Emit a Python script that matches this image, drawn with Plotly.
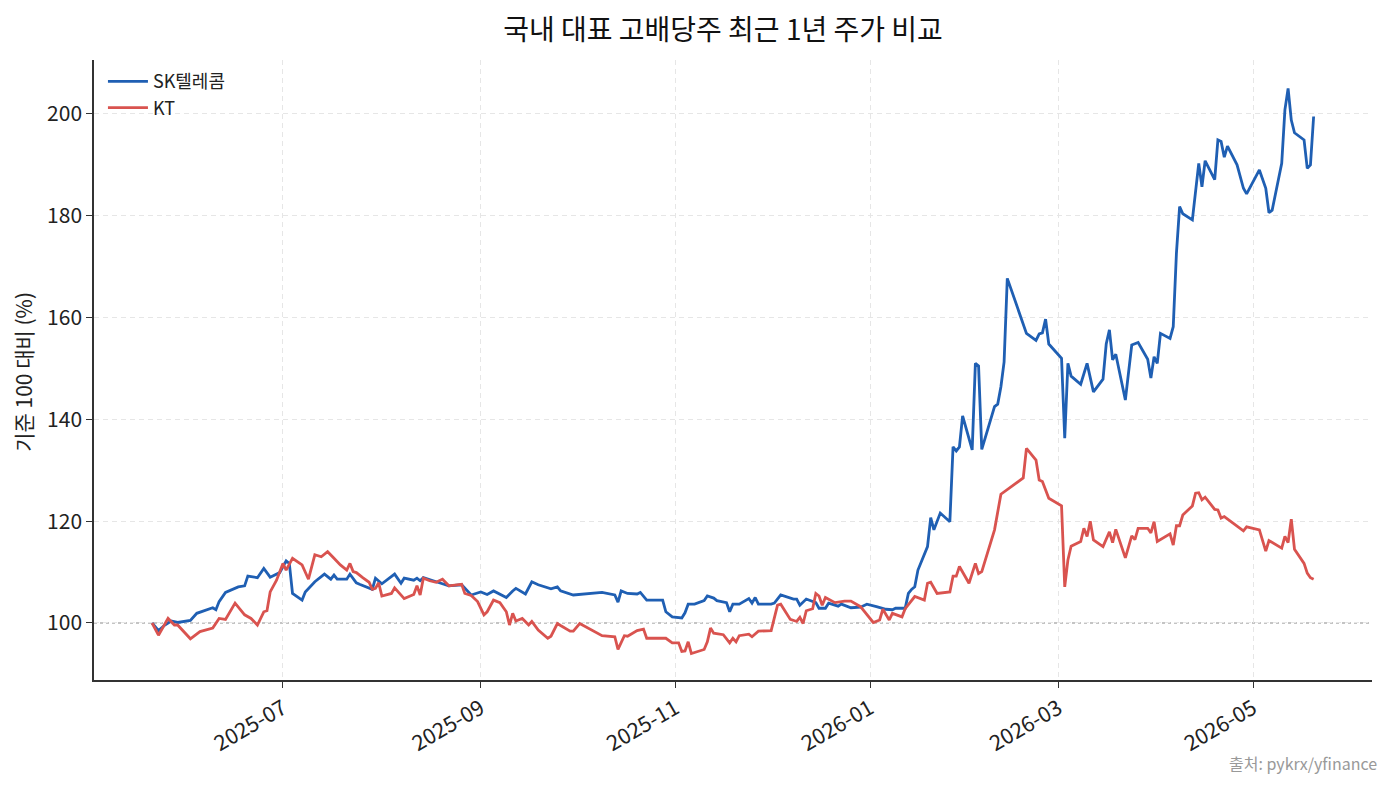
import plotly.graph_objects as go

TITLE = "국내 대표 고배당주 최근 1년 주가 비교"
Y_LABEL = "기준 100 대비 (%)"
SOURCE = "출처: pykrx/yfinance"
SERIES_NAMES = ["SK텔레콤", "KT"]

skt_dates = [
    "2025-05-21","2025-05-23","2025-05-25","2025-05-27","2025-05-29","2025-06-02","2025-06-04","2025-06-06",
    "2025-06-09","2025-06-10","2025-06-11","2025-06-13","2025-06-17","2025-06-19","2025-06-20","2025-06-23",
    "2025-06-25","2025-06-27","2025-06-30","2025-07-02","2025-07-03","2025-07-04","2025-07-07","2025-07-08",
    "2025-07-11","2025-07-14","2025-07-16","2025-07-17","2025-07-18","2025-07-21","2025-07-22","2025-07-24",
    "2025-07-25","2025-07-29","2025-07-30","2025-08-01","2025-08-05","2025-08-07","2025-08-08","2025-08-11",
    "2025-08-12","2025-08-13","2025-08-14","2025-08-19","2025-08-22","2025-08-26","2025-08-29","2025-09-01",
    "2025-09-03","2025-09-05","2025-09-09","2025-09-11","2025-09-12","2025-09-15","2025-09-17","2025-09-19",
    "2025-09-23","2025-09-25","2025-09-26","2025-09-30","2025-10-09","2025-10-13","2025-10-14","2025-10-15",
    "2025-10-17","2025-10-20","2025-10-21","2025-10-23","2025-10-28","2025-10-29","2025-10-31","2025-11-03",
    "2025-11-04","2025-11-05","2025-11-07","2025-11-10","2025-11-11","2025-11-13","2025-11-14","2025-11-17",
    "2025-11-18","2025-11-19","2025-11-21","2025-11-24","2025-11-25","2025-11-26","2025-11-27","2025-12-01",
    "2025-12-02","2025-12-04","2025-12-08","2025-12-09","2025-12-10","2025-12-12","2025-12-15","2025-12-16",
    "2025-12-18","2025-12-19","2025-12-22","2025-12-23","2025-12-26","2025-12-29","2025-12-31","2026-01-03",
    "2026-01-06","2026-01-08","2026-01-09","2026-01-12","2026-01-13","2026-01-14","2026-01-15","2026-01-16",
    "2026-01-19","2026-01-20","2026-01-21","2026-01-23","2026-01-26","2026-01-27","2026-01-28","2026-01-29",
    "2026-01-30","2026-02-02","2026-02-03","2026-02-04","2026-02-05","2026-02-09","2026-02-10","2026-02-11",
    "2026-02-12","2026-02-13","2026-02-19","2026-02-22","2026-02-23","2026-02-24","2026-02-25","2026-02-26",
    "2026-03-02","2026-03-03","2026-03-04","2026-03-05","2026-03-08","2026-03-10","2026-03-12","2026-03-15",
    "2026-03-16","2026-03-17","2026-03-18","2026-03-19","2026-03-22","2026-03-24","2026-03-26","2026-03-29",
    "2026-03-30","2026-03-31","2026-04-01","2026-04-02","2026-04-05","2026-04-06","2026-04-07","2026-04-08",
    "2026-04-09","2026-04-12","2026-04-14","2026-04-15","2026-04-16","2026-04-19","2026-04-20","2026-04-21",
    "2026-04-22","2026-04-23","2026-04-26","2026-04-28","2026-04-29","2026-05-03","2026-05-05","2026-05-06",
    "2026-05-07","2026-05-10","2026-05-11","2026-05-12","2026-05-13","2026-05-14","2026-05-17","2026-05-18",
    "2026-05-19","2026-05-20",
]
skt_values = [
    100.0, 98.5, 99.6, 100.4, 100.1, 100.5, 101.9, 102.4,
    103.0, 102.6, 104.2, 106.0, 107.1, 107.3, 109.2, 108.9,
    110.7, 109.0, 109.9, 112.2, 111.7, 105.8, 104.5, 106.1,
    108.1, 109.6, 108.6, 109.4, 108.6, 108.6, 109.6, 107.9,
    107.6, 106.6, 108.8, 107.7, 109.6, 107.8, 108.8, 108.4,
    108.8, 108.3, 108.9, 107.9, 107.3, 107.5, 105.5, 106.1,
    105.6, 106.3, 105.0, 106.3, 106.8, 105.7, 108.1, 107.5,
    106.7, 107.1, 106.3, 105.5, 106.0, 105.5, 104.1, 106.3,
    105.8, 105.7, 106.0, 104.5, 104.5, 102.2, 101.2, 101.0,
    102.0, 103.7, 103.7, 104.4, 105.3, 104.9, 104.4, 104.0,
    102.2, 103.7, 103.7, 104.8, 103.9, 105.0, 103.7, 103.7,
    103.9, 105.5, 104.7, 104.7, 103.5, 104.7, 104.0, 102.9,
    102.9, 103.9, 103.3, 103.7, 103.0, 103.1, 103.7, 103.2,
    102.7, 102.6, 102.9, 102.9, 105.8, 106.6, 107.1, 110.4,
    115.0, 120.7, 118.3, 121.6, 119.9, 134.6, 133.8, 134.6,
    140.7, 134.0, 151.0, 150.5, 134.1, 142.5, 143.0, 146.4,
    151.3, 167.7, 156.9, 155.5, 156.8, 157.0, 159.7, 154.8,
    152.0, 136.3, 151.0, 148.5, 146.9, 151.0, 145.4, 147.9,
    154.8, 157.6, 151.7, 152.8, 143.8, 154.6, 155.1, 151.8,
    148.1, 152.3, 151.0, 156.9, 155.9, 158.2, 172.6, 181.8,
    180.4, 179.2, 190.3, 185.7, 190.8, 187.1, 194.9, 194.6,
    191.5, 193.7, 190.0, 185.4, 184.3, 189.0, 185.4, 180.6,
    181.1, 190.3, 200.8, 205.0, 198.8, 196.3, 194.9, 189.3,
    190.0, 199.5,
]

kt_dates = [
    "2025-05-21","2025-05-23","2025-05-26","2025-05-28","2025-05-29","2025-06-02","2025-06-05","2025-06-09",
    "2025-06-11","2025-06-13","2025-06-16","2025-06-19","2025-06-21","2025-06-23","2025-06-25","2025-06-26",
    "2025-06-27","2025-06-29","2025-07-01","2025-07-02","2025-07-04","2025-07-07","2025-07-09","2025-07-11",
    "2025-07-13","2025-07-15","2025-07-17","2025-07-19","2025-07-21","2025-07-22","2025-07-23","2025-07-24",
    "2025-07-26","2025-07-28","2025-07-29","2025-07-30","2025-07-31","2025-08-01","2025-08-04","2025-08-05",
    "2025-08-08","2025-08-11","2025-08-12","2025-08-13","2025-08-14","2025-08-16","2025-08-18","2025-08-20",
    "2025-08-22","2025-08-26","2025-08-27","2025-08-29","2025-08-31","2025-09-02","2025-09-03","2025-09-05",
    "2025-09-07","2025-09-09","2025-09-10","2025-09-11","2025-09-12","2025-09-14","2025-09-16","2025-09-17",
    "2025-09-19","2025-09-22","2025-09-23","2025-09-25","2025-09-26","2025-09-29","2025-09-30","2025-10-02",
    "2025-10-09","2025-10-13","2025-10-14","2025-10-16","2025-10-17","2025-10-20","2025-10-22","2025-10-23",
    "2025-10-29","2025-10-31","2025-11-02","2025-11-03","2025-11-04","2025-11-05","2025-11-06","2025-11-10",
    "2025-11-11","2025-11-12","2025-11-13","2025-11-16","2025-11-18","2025-11-19","2025-11-20","2025-11-21",
    "2025-11-24","2025-11-25","2025-11-27","2025-12-01","2025-12-03","2025-12-04","2025-12-07","2025-12-09",
    "2025-12-10","2025-12-11","2025-12-12","2025-12-14","2025-12-15","2025-12-16","2025-12-17","2025-12-18",
    "2025-12-21","2025-12-24","2025-12-26","2025-12-29","2026-01-02","2026-01-04","2026-01-05","2026-01-07",
    "2026-01-08","2026-01-11","2026-01-12","2026-01-15","2026-01-18","2026-01-19","2026-01-20","2026-01-22",
    "2026-01-26","2026-01-27","2026-01-28","2026-01-29","2026-02-01","2026-02-03","2026-02-04","2026-02-05",
    "2026-02-09","2026-02-11","2026-02-18","2026-02-19","2026-02-22","2026-02-23","2026-02-24","2026-02-26",
    "2026-03-02","2026-03-03","2026-03-04","2026-03-05","2026-03-08","2026-03-09","2026-03-10","2026-03-11",
    "2026-03-12","2026-03-15","2026-03-17","2026-03-18","2026-03-19","2026-03-22","2026-03-24","2026-03-25",
    "2026-03-26","2026-03-29","2026-03-30","2026-03-31","2026-04-01","2026-04-05","2026-04-06","2026-04-07",
    "2026-04-08","2026-04-09","2026-04-12","2026-04-13","2026-04-14","2026-04-15","2026-04-16","2026-04-19",
    "2026-04-20","2026-04-21","2026-04-22","2026-04-27","2026-04-28","2026-04-29","2026-05-03","2026-05-05",
    "2026-05-06","2026-05-10","2026-05-11","2026-05-12","2026-05-13","2026-05-14","2026-05-17","2026-05-18",
    "2026-05-19","2026-05-20",
]
kt_values = [
    100.0, 97.6, 100.9, 99.6, 99.6, 96.9, 98.3, 99.0,
    100.9, 100.7, 103.9, 101.6, 100.9, 99.6, 102.2, 102.4,
    106.1, 108.4, 111.7, 110.4, 112.7, 111.4, 108.6, 113.4,
    113.0, 114.0, 112.7, 111.4, 110.4, 111.7, 110.1, 109.9,
    108.9, 108.0, 106.6, 106.8, 107.9, 105.3, 105.8, 106.9,
    104.8, 105.6, 107.3, 105.5, 108.8, 108.3, 108.0, 108.6,
    107.3, 107.6, 105.8, 105.4, 104.2, 101.6, 102.2, 104.5,
    104.0, 102.2, 99.6, 101.9, 100.4, 100.9, 99.6, 100.3,
    98.6, 97.0, 97.4, 99.9, 99.5, 98.4, 98.4, 99.9,
    97.5, 97.3, 94.8, 97.5, 97.4, 98.5, 98.8, 97.0,
    97.0, 96.1, 96.1, 94.4, 94.5, 96.3, 94.0, 94.8,
    96.3, 99.0, 98.0, 97.7, 96.1, 97.0, 96.3, 97.5,
    97.8, 97.3, 98.4, 98.5, 103.5, 103.7, 100.7, 100.3,
    101.1, 99.9, 102.4, 102.8, 105.8, 105.3, 103.5, 105.0,
    104.0, 104.3, 104.3, 103.2, 100.1, 100.6, 102.7, 100.6,
    101.9, 101.2, 102.8, 105.2, 104.5, 107.8, 108.0, 105.8,
    106.1, 109.2, 109.2, 111.1, 107.8, 111.7, 109.7, 110.1,
    118.3, 125.3, 128.5, 134.3, 132.0, 128.1, 127.8, 124.5,
    123.0, 107.1, 112.4, 115.1, 116.0, 118.6, 117.0, 120.0,
    116.3, 115.0, 117.9, 115.8, 118.4, 112.8, 117.1, 116.4,
    118.6, 118.6, 117.7, 119.9, 116.0, 117.5, 115.3, 119.1,
    119.1, 121.2, 123.0, 125.5, 125.6, 124.2, 124.7, 122.3,
    122.2, 120.6, 120.9, 118.6, 118.1, 118.9, 118.3, 114.1,
    116.2, 114.7, 117.0, 115.8, 120.4, 114.5, 111.7, 109.8,
    108.9, 108.6,
]

tick_dates = ["2025-07-01", "2025-09-01", "2025-11-01", "2026-01-01", "2026-03-01", "2026-05-01"]
tick_labels = ["2025-07", "2025-09", "2025-11", "2026-01", "2026-03", "2026-05"]
y_ticks = [100, 120, 140, 160, 180, 200]
BASELINE = 100

BLUE = "#1f5fb3"
RED = "#d9534f"
FONT = "Noto Sans CJK KR"

# page has an 8px body margin; the figure is sized so the plot lands where the reference has it
PAGE_OFF = 8
W, H = 1393 - PAGE_OFF, 786 - PAGE_OFF

fig = go.Figure()
fig.add_trace(go.Scatter(x=skt_dates, y=skt_values, mode="lines", name=SERIES_NAMES[0],
                         line=dict(color=BLUE, width=2.8)))
fig.add_trace(go.Scatter(x=kt_dates, y=kt_values, mode="lines", name=SERIES_NAMES[1],
                         line=dict(color=RED, width=2.8)))

fig.add_shape(type="line", xref="paper", x0=0, x1=1, yref="y", y0=BASELINE, y1=BASELINE,
              line=dict(color="#8a8a8a", width=1.2, dash="dot"), layer="below")

fig.update_layout(
    width=W, height=H,
    margin=dict(l=94 - PAGE_OFF, r=21, t=60 - PAGE_OFF, b=106),
    paper_bgcolor="white", plot_bgcolor="white",
    font=dict(family=FONT, color="#222222", size=18),
    title=dict(text=TITLE, x=(723 - PAGE_OFF) / W, xref="container", xanchor="center",
               y=1 - (30 - PAGE_OFF) / H, yref="container", yanchor="middle",
               font=dict(size=28, color="#111111", family=FONT)),
    showlegend=True,
    legend=dict(x=0.007, y=0.995, xanchor="left", yanchor="top", bgcolor="rgba(0,0,0,0)",
                font=dict(size=18, family=FONT, color="#222222"), tracegroupgap=2, itemwidth=40),
    xaxis=dict(
        type="date",
        range=["2025-05-02 19:00", "2026-06-07 07:00"],
        tickvals=tick_dates, ticktext=tick_labels, tickangle=-30,
        showgrid=True, gridcolor="#e6e6e6", griddash="5px,4px", gridwidth=1.2,
        showline=True, linecolor="#333333", linewidth=1.5, mirror=False,
        ticks="outside", ticklen=6, tickwidth=1.3, tickcolor="#333333",
        tickfont=dict(size=21.5, family=FONT, color="#222222"),
        zeroline=False,
    ),
    yaxis=dict(
        range=[88.8, 210.6],
        tickvals=y_ticks,
        showgrid=True, gridcolor="#e6e6e6", griddash="5px,4px", gridwidth=1.2,
        showline=True, linecolor="#333333", linewidth=1.5, mirror=False,
        ticks="outside", ticklen=6, tickwidth=1.3, tickcolor="#333333",
        tickfont=dict(size=21, family=FONT, color="#222222"),
        zeroline=False,
    ),
)

fig.add_annotation(text=Y_LABEL, xref="paper", yref="paper", x=(23 - 94) / 1278, y=0.497,
                   textangle=-90, showarrow=False, xanchor="center", yanchor="middle",
                   font=dict(size=21, family=FONT, color="#222222"))
fig.add_annotation(text=SOURCE, xref="paper", yref="paper", x=(1379 - 94) / 1278, y=-(763 - 680) / 620,
                   showarrow=False, xanchor="right", yanchor="middle",
                   font=dict(size=16, family=FONT, color="#999999"))

fig.write_html("out.html")
